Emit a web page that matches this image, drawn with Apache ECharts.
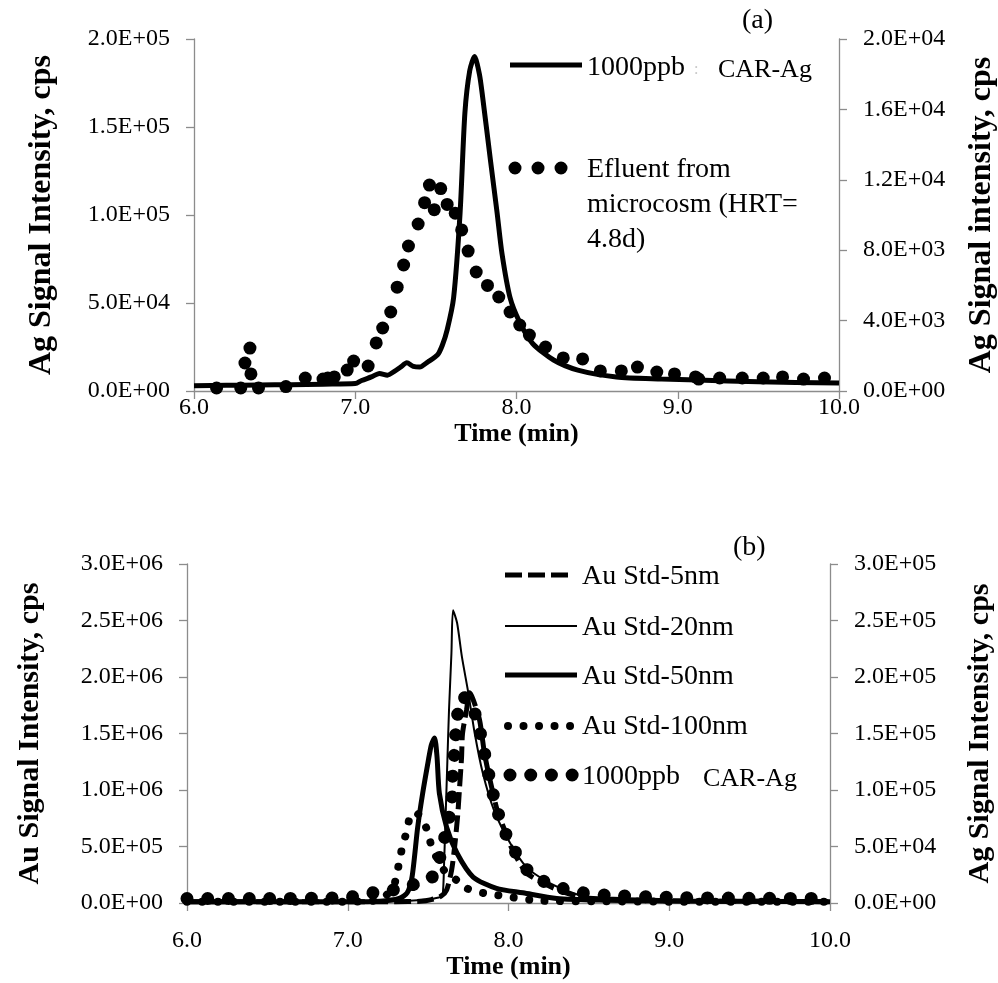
<!DOCTYPE html>
<html><head><meta charset="utf-8">
<script src="https://cdn.jsdelivr.net/npm/echarts/dist/echarts.min.js"></script>
<style>html,body{margin:0;padding:0;background:#fff}#c{width:998px;height:983px}</style>
</head><body><div id="c"></div>
<script>
// ---------- axis ranges ----------
const timeRange = [6, 10, 1];            // min, max, step (min)
const aLeftRange = [0, 200000, 50000];   // Ag signal, panel (a) left
const aRightRange = [0, 20000, 4000];    // Ag signal, panel (a) right
const bLeftRange = [0, 3000000, 500000]; // Au signal, panel (b) left
const bRightRange = [0, 300000, 50000];  // Ag signal, panel (b) right

// ---------- panel (a) ----------
const aCarTime = [6.00,6.20,6.40,6.60,6.80,7.00,7.04,7.10,7.15,7.20,7.24,7.28,7.32,7.36,7.40,7.45,7.51,7.54,7.57,7.61,7.65,7.68,7.71,7.74,7.77,7.79,7.84,7.88,7.91,7.96,8.02,8.10,8.23,8.38,8.62,8.90,9.12,9.50,10.00];
const aCarVal  = [3000,3200,3400,3600,3900,4200,6000,8000,10000,9000,11000,13500,16000,14000,13600,16500,20500,26000,34700,53000,101000,158000,182000,190000,180000,167000,130000,101000,78000,53000,39000,27000,17600,11900,8000,6800,6200,5200,4500];

const aEffTime = [6.14,6.29,6.316,6.347,6.353,6.40,6.57,6.69,6.80,6.83,6.87,6.95,6.99,7.08,7.13,7.17,7.22,7.26,7.30,7.33,7.39,7.43,7.46,7.49,7.53,7.57,7.62,7.66,7.70,7.75,7.82,7.89,7.96,8.02,8.08,8.18,8.29,8.41,8.52,8.65,8.75,8.87,8.98,9.11,9.13,9.26,9.40,9.53,9.65,9.78,9.91];
const aEffVal  = [170,170,1590,2440,970,170,250,740,680,740,800,1190,1700,1420,2730,3580,4490,5900,7160,8240,9490,10700,11700,10300,11500,10600,10100,9150,7950,6760,6000,5340,4490,3750,3180,2500,1880,1820,1140,1140,1360,1080,970,800,680,740,740,740,800,680,740];

// ---------- panel (b) ----------
const b5Time  = [6.0,6.5,7.0,7.3,7.45,7.52,7.58,7.615,7.646,7.665,7.683,7.696,7.708,7.714,7.739,7.758,7.78,7.82,7.85,7.88,7.93,7.975,8.025,8.11,8.21,8.335,8.46,8.6,9.0,9.5,10.0];
const b5Val   = [10000,10000,10000,12000,15000,30000,60000,115000,290000,500000,760000,1030000,1290000,1500000,1710000,1860000,1800000,1620000,1330000,1120000,820000,650000,470000,270000,180000,100000,50000,35000,20000,15000,12000];

const b20Time = [6.0,6.5,7.0,7.3,7.5,7.57,7.59,7.60,7.61,7.62,7.63,7.645,7.655,7.68,7.71,7.75,7.79,7.84,7.91,8.01,8.11,8.24,8.38,8.50,8.7,9.0,9.5,10.0];
const b20Val  = [10000,10000,10000,15000,30000,50000,60000,380000,820000,1270000,1710000,2210000,2590000,2480000,2180000,1860000,1500000,1150000,820000,530000,320000,190000,100000,50000,30000,20000,15000,12000];

const b50Time = [6.0,6.5,7.0,7.2,7.32,7.37,7.40,7.435,7.466,7.50,7.52,7.54,7.555,7.57,7.615,7.68,7.78,7.925,8.09,8.3,8.6,9.0,9.5,10.0];
const b50Val  = [10000,10000,10000,15000,40000,90000,230000,670000,970000,1250000,1400000,1460000,1300000,970000,670000,440000,230000,130000,90000,40000,25000,18000,15000,12000];

const b100Time = [6.0,6.5,7.0,7.2,7.28,7.30,7.32,7.34,7.37,7.39,7.42,7.45,7.49,7.52,7.56,7.61,7.68,7.74,7.80,7.93,8.2,8.6,9.0,9.5,10.0];
const b100Val  = [10000,10000,12000,30000,130000,220000,360000,500000,650000,780000,800000,770000,660000,510000,380000,270000,200000,130000,100000,70000,20000,15000,12000,10000,10000];

const bCarTime = [6.0,6.5,7.0,7.155,7.28,7.40,7.52,7.58,7.615,7.646,7.652,7.665,7.677,7.708,7.758,7.82,7.88,7.93,8.00,8.13,8.27,8.42,8.6,9.0,9.5,10.0];
const bCarVal  = [4000,4000,5000,9000,11500,16000,22000,44000,66000,87000,112000,135000,159000,182000,180000,153000,112000,82000,56000,27000,16000,10000,7000,5000,4200,4000];

// ---------- helpers ----------
const zip = (t, v) => t.map((x, i) => [x, v[i]]);
function sci(v) {
  if (v === 0) return '0.0E+00';
  const parts = v.toExponential(1).split('e');
  const n = parseInt(parts[1], 10);
  return parts[0] + 'E' + (n < 0 ? '-' : '+') + String(Math.abs(n)).padStart(2, '0');
}
const SERIF = '"Liberation Serif", "Times New Roman", serif';
const AX = '#8c8c8c';

function xAx(grid, gap, margin) {
  return {
    gridIndex: grid, type: 'value', min: timeRange[0], max: timeRange[1], interval: timeRange[2],
    axisLine: { show: true, onZero: false, lineStyle: { color: AX, width: 1.3 } },
    axisTick: { show: true, length: 8, lineStyle: { color: AX, width: 1.3 } },
    splitLine: { show: false },
    axisLabel: { formatter: v => v.toFixed(1), fontFamily: SERIF, fontSize: 24, color: '#000', margin: margin },
    name: 'Time (min)', nameLocation: 'middle', nameGap: gap,
    nameTextStyle: { fontFamily: SERIF, fontSize: 26, fontWeight: 'bold', color: '#000' }
  };
}
function yAx(grid, pos, range, name, gap, fs) {
  return {
    gridIndex: grid, type: 'value', position: pos, min: range[0], max: range[1], interval: range[2],
    axisLine: { show: true, lineStyle: { color: AX, width: 1.3 } },
    axisTick: { show: true, length: 8, lineStyle: { color: AX, width: 1.3 } },
    splitLine: { show: false },
    axisLabel: { formatter: sci, fontFamily: SERIF, fontSize: 24, color: '#000', margin: 24 },
    name: name, nameLocation: 'middle', nameGap: gap, nameRotate: 90,
    nameTextStyle: { fontFamily: SERIF, fontSize: fs, fontWeight: 'bold', color: '#000' }
  };
}

const chart = echarts.init(document.getElementById('c'));
const txt = (x, y, s, size, fill) => ({
  type: 'text', style: { x: x, y: y, text: s, font: size + 'px ' + SERIF, fill: fill || '#000',
    verticalAlign: 'middle', textVerticalAlign: 'middle', align: 'left', textAlign: 'left' }
});
const seg = (x1, x2, y, st) => ({ type: 'line', shape: { x1: x1, y1: y, x2: x2, y2: y },
  style: Object.assign({ stroke: '#000' }, st) });

const S5 = { width: 5, type: [17, 6], cap: 'butt', color: '#000' };
const S20 = { width: 2, color: '#000' };
const S50 = { width: 5, color: '#000' };
const S100 = { width: 8, type: [0.01, 15.5], cap: 'round', color: '#000' };
const SCAR = { width: 13, type: [0.01, 20.7], cap: 'round', color: '#000' };

chart.setOption({
  animation: false,
  backgroundColor: '#fff',
  grid: [
    { left: 194, right: 998 - 839, top: 39, height: 352, containLabel: false, outerBoundsMode: 'none' },
    { left: 187, right: 998 - 830, top: 564, height: 339, containLabel: false, outerBoundsMode: 'none' }
  ],
  xAxis: [xAx(0, 25, 5), xAx(1, 51, 26)],
  yAxis: [
    yAx(0, 'left', aLeftRange, 'Ag Signal Intensity, cps', 136, 32),
    yAx(0, 'right', aRightRange, 'Ag Signal intensity, cps', 127, 32),
    yAx(1, 'left', bLeftRange, 'Au Signal Intensity, cps', 142, 30),
    yAx(1, 'right', bRightRange, 'Ag Signal Intensity, cps', 135, 30)
  ],
  series: [
    { name: '1000ppb CAR-Ag', type: 'line', xAxisIndex: 0, yAxisIndex: 0, data: zip(aCarTime, aCarVal),
      showSymbol: false, smooth: 0.25, lineStyle: { width: 5, color: '#000' }, itemStyle: { color: '#000' } },
    { name: 'Efluent from microcosm (HRT= 4.8d)', type: 'scatter', xAxisIndex: 0, yAxisIndex: 1,
      data: zip(aEffTime, aEffVal), symbol: 'circle', symbolSize: 13, itemStyle: { color: '#000', opacity: 1 } },
    { name: 'Au Std-5nm', type: 'line', xAxisIndex: 1, yAxisIndex: 2, data: zip(b5Time, b5Val),
      showSymbol: false, smooth: 0.25, lineStyle: S5 },
    { name: 'Au Std-20nm', type: 'line', xAxisIndex: 1, yAxisIndex: 2, data: zip(b20Time, b20Val),
      showSymbol: false, smooth: 0.25, lineStyle: S20 },
    { name: 'Au Std-50nm', type: 'line', xAxisIndex: 1, yAxisIndex: 2, data: zip(b50Time, b50Val),
      showSymbol: false, smooth: 0.25, lineStyle: S50 },
    { name: 'Au Std-100nm', type: 'line', xAxisIndex: 1, yAxisIndex: 2, data: zip(b100Time, b100Val),
      showSymbol: false, smooth: 0.25, lineStyle: S100 },
    { name: '1000ppb CAR-Ag (b)', type: 'line', xAxisIndex: 1, yAxisIndex: 3, data: zip(bCarTime, bCarVal),
      showSymbol: false, smooth: 0.25, lineStyle: SCAR }
  ],
  graphic: [
    txt(742, 21, '(a)', 28),
    seg(510, 582, 65, { lineWidth: 5 }),
    txt(587, 68, '1000ppb', 28),
    txt(694, 70, ':', 16, '#c8c8c8'),
    txt(718, 70, 'CAR-Ag', 26),
    seg(515, 563, 168, { lineWidth: 13, lineDash: [0.01, 23], lineCap: 'round' }),
    txt(587, 170, 'Efluent from', 28),
    txt(587, 205, 'microcosm (HRT=', 28),
    txt(587, 240, '4.8d)', 28),

    txt(733, 548, '(b)', 28),
    seg(505, 568, 575, { lineWidth: 5, lineDash: [17, 6] }),
    txt(582, 577, 'Au Std-5nm', 28),
    seg(505, 577, 626, { lineWidth: 2 }),
    txt(582, 628, 'Au Std-20nm', 28),
    seg(505, 577, 675, { lineWidth: 5 }),
    txt(582, 677, 'Au Std-50nm', 28),
    seg(508, 572, 726, { lineWidth: 8, lineDash: [0.01, 15.5], lineCap: 'round' }),
    txt(582, 727, 'Au Std-100nm', 28),
    seg(510, 574, 775, { lineWidth: 13, lineDash: [0.01, 20.7], lineCap: 'round' }),
    txt(582, 777, '1000ppb', 28),
    txt(703, 779, 'CAR-Ag', 26)
  ]
});
</script></body></html>
